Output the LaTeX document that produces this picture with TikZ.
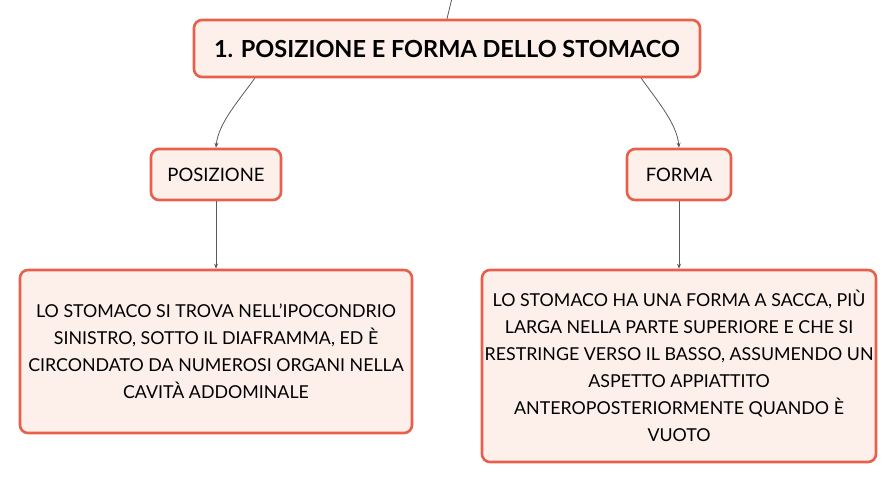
\documentclass[tikz,border=0pt]{standalone}
\usepackage{fontspec}
\setmainfont{Lato}
\usetikzlibrary{arrows.meta}
\definecolor{box_red}{HTML}{E8604C}
\definecolor{box_fill}{HTML}{FDF0EB}
\definecolor{line_grey}{HTML}{5A5A5A}
\begin{document}
\begin{tikzpicture}[x=1pt,y=-1pt,
    mapbox/.style={draw=box_red, fill=box_fill, line width=2.6pt, rounded corners=8pt, inner sep=0pt, align=center},
    conn/.style={draw=line_grey, line width=0.8pt, -{Stealth[length=5pt,width=4pt]}}]
        \useasboundingbox (0,0) rectangle (896,483);
        % Titolo
        \node[mapbox, minimum width=506pt, minimum height=57pt, font=\fontsize{23.5}{28}\selectfont\bfseries] (root) at (447,48.5) {1. POSIZIONE E FORMA DELLO STOMACO};
        \coordinate (top) at (452,-2);
        \draw[draw=line_grey, line width=0.8pt] (top) -- (root.north);
        % Rami
        \node[mapbox, minimum width=130pt, minimum height=51pt, font=\fontsize{18.5}{22}\selectfont] (posizione) at (216,174.5) {POSIZIONE};
        \node[mapbox, minimum width=104pt, minimum height=51pt, font=\fontsize{18.5}{22}\selectfont] (forma) at (679,174.5) {FORMA};
        \draw[conn] ([xshift=62pt]root.south west) to[out=-125,in=85,looseness=0.8] (posizione.north);
        \draw[conn] ([xshift=-60pt]root.south east) to[out=-55,in=95,looseness=0.8] (forma.north);
        % Descrizioni
        \node[mapbox, minimum width=392pt, minimum height=163pt, font=\fontsize{17.8}{27}\selectfont] (pos_testo) at (216,351.5)
            {LO STOMACO SI TROVA NELL'IPOCONDRIO\\SINISTRO, SOTTO IL DIAFRAMMA, ED È\\CIRCONDATO DA NUMEROSI ORGANI NELLA\\CAVITÀ ADDOMINALE};
        \node[mapbox, minimum width=394pt, minimum height=192pt, font=\fontsize{17.8}{27}\selectfont] (forma_testo) at (679,366)
            {LO STOMACO HA UNA FORMA A SACCA, PIÙ\\LARGA NELLA PARTE SUPERIORE E CHE SI\\RESTRINGE VERSO IL BASSO, ASSUMENDO UN\\ASPETTO APPIATTITO\\ANTEROPOSTERIORMENTE QUANDO È\\VUOTO};
        \draw[conn] (posizione) -- (pos_testo);
        \draw[conn] (forma) -- (forma_testo);
    \end{tikzpicture}
\end{document}
